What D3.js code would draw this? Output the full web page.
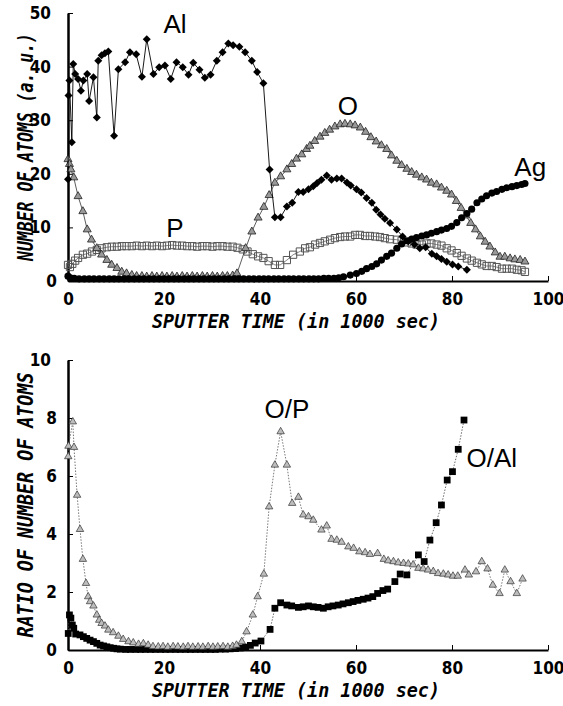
<!DOCTYPE html>
<html>
<head>
<meta charset="utf-8">
<script src="https://cdn.jsdelivr.net/npm/d3@7"></script>
<style>
body{margin:0;background:#fff;}
.tick text{font-family:'Liberation Sans Narrow','DejaVu Sans Condensed',sans-serif;font-weight:bold;font-size:17px;fill:#000;}
.ttl{font-family:'DejaVu Sans Mono',monospace;font-style:italic;font-weight:bold;fill:#000;}
.lbl{font-family:'Liberation Sans',Arial,sans-serif;font-size:26px;fill:#000;}
</style>
</head>
<body>
<svg id="svg" width="563" height="706"></svg>
<script>
// sputter time (1000 s) vs. number of atoms
const al = [[0,19.0],[0.1,34.6],[0.3,37.4],[0.8,25.9],[1.1,40.5],[1.5,38.6],[2.1,37.7],[2.7,35.5],[3.2,37.4],[4.0,38.6],[4.4,33.6],[5.3,38.0],[6.0,30.5],[6.3,41.1],[7.0,42.1],[7.7,42.5],[8.4,42.8],[9.6,27.1],[10.5,39.5],[11.9,40.8],[12.9,42.7],[14.2,42.3],[15.4,38.1],[16.4,45.1],[17.8,38.6],[19.0,39.9],[20.2,40.2],[21.4,37.7],[22.6,40.8],[23.9,39.9],[25.1,38.5],[26.1,40.7],[27.4,39.4],[28.5,37.9],[29.7,38.5],[31.0,41.1],[32.2,42.7],[33.4,44.3],[34.4,44.0],[35.7,43.7],[36.9,42.7],[38.3,41.1],[39.4,39.0],[40.7,36.9],[42.0,20.8],[43.1,11.9],[44.3,11.9],[45.6,13.9],[46.7,14.6],[48.0,16.6],[49.0,16.6],[50.1,17.1],[51.1,17.7],[51.9,18.3],[52.8,18.9],[53.9,19.7],[54.9,18.9],[56.0,19.1],[57.0,19.1],[58.1,18.4],[58.9,17.8],[60.1,17.1],[61.1,16.5],[62.2,15.5],[63.3,14.6],[64.2,13.3],[65.1,12.4],[66.0,11.6],[67.1,10.8],[68.5,9.6],[69.7,8.3],[70.9,7.4],[72.2,6.8],[73.3,6.1],[74.5,6.3],[75.8,5.1],[76.8,4.6],[77.8,4.1],[78.9,3.6],[80.1,3.1],[81.3,2.7],[83.1,2.1]];

const oxy = [[0,22.7],[0.3,21.8],[0.6,20.8],[1.2,19.3],[2.1,15.8],[3.1,13.0],[4.0,9.6],[4.9,7.7],[6.0,6.1],[7.0,4.9],[8.1,3.9],[9.1,3.0],[10.2,2.4],[11.2,1.7],[12.2,1.4],[13.3,1.1],[14.3,0.9],[15.4,0.9],[16.4,0.8],[17.5,0.9],[18.5,0.8],[19.6,0.9],[20.6,0.8],[21.7,0.9],[22.7,0.8],[23.8,0.9],[24.8,0.8],[25.9,0.9],[26.9,0.8],[28.0,0.9],[29.0,0.8],[30.1,0.9],[31.1,0.8],[32.2,0.9],[33.2,0.9],[34.3,1.0],[35.2,1.4],[37.0,6.1],[38.3,9.2],[39.6,11.8],[40.8,13.8],[41.9,16.0],[43.1,18.3],[44.3,19.5],[45.6,20.8],[46.6,21.8],[47.6,22.8],[48.7,23.6],[49.7,24.6],[50.4,25.2],[51.4,26.1],[52.5,26.9],[53.5,27.6],[54.5,28.2],[55.6,28.8],[56.7,29.2],[57.7,29.3],[58.8,29.2],[59.8,29.0],[60.9,28.6],[62.0,27.8],[63.1,26.8],[64.2,26.0],[65.3,25.3],[66.4,24.6],[67.4,23.4],[68.5,22.4],[69.5,21.6],[70.6,20.9],[71.6,20.3],[72.6,19.8],[73.7,19.3],[74.7,18.9],[75.7,18.3],[76.8,18.0],[77.8,17.4],[78.9,16.8],[79.9,16.1],[80.9,14.9],[81.9,13.6],[82.9,12.2],[83.9,10.8],[84.9,9.6],[85.9,8.3],[86.9,7.3],[87.9,6.4],[89.0,5.3],[90.0,4.5],[91.0,4.5],[92.1,4.2],[93.1,4.0],[94.2,3.9],[95.2,3.6]];

const phos = [[0,3.0],[0.4,2.6],[0.9,3.2],[1.5,3.8],[2.1,4.3],[3.1,4.9],[4.0,5.1],[5.0,5.5],[6.0,5.8],[7.0,6.1],[8.1,6.3],[9.1,6.4],[10.2,6.4],[11.2,6.5],[12.2,6.5],[13.3,6.5],[14.3,6.6],[15.4,6.5],[16.4,6.6],[17.5,6.5],[18.5,6.6],[19.6,6.5],[20.6,6.6],[21.7,6.7],[22.7,6.6],[23.8,6.6],[24.8,6.5],[25.9,6.5],[26.9,6.4],[28.0,6.5],[29.0,6.5],[30.1,6.4],[31.1,6.5],[32.2,6.5],[33.2,6.4],[34.3,6.4],[35.3,6.2],[36.4,5.9],[37.4,5.5],[38.5,5.0],[39.6,4.6],[40.7,4.3],[41.8,3.7],[43.1,3.0],[44.2,3.0],[45.6,3.9],[46.9,4.9],[48.3,5.5],[49.4,6.1],[50.4,6.3],[51.5,6.8],[52.5,7.1],[53.5,7.4],[54.6,7.7],[55.6,8.0],[56.7,8.2],[57.7,8.3],[58.8,8.3],[59.8,8.6],[60.8,8.6],[61.9,8.4],[62.9,8.4],[64.0,8.3],[65.0,8.2],[66.0,8.0],[67.1,7.8],[68.5,7.7],[69.5,7.5],[70.6,7.2],[71.6,7.0],[72.6,6.8],[73.7,6.8],[74.7,7.0],[75.7,7.0],[76.8,6.8],[77.8,6.6],[78.9,6.1],[79.9,5.7],[81.0,5.2],[82.0,4.7],[83.1,4.2],[84.1,3.8],[85.2,3.4],[86.2,3.1],[87.2,2.8],[88.3,2.8],[89.3,2.6],[90.4,2.3],[91.4,2.3],[92.5,2.3],[93.5,2.1],[94.5,2.0],[95.2,1.7]];

const ag = [[0,0.9],[0.5,0.6],[1.3,0.5],[2.3,0.4],[3.4,0.4],[4.4,0.4],[5.4,0.4],[6.5,0.4],[7.5,0.4],[8.6,0.4],[9.6,0.4],[10.6,0.4],[11.7,0.4],[12.7,0.4],[13.8,0.4],[14.8,0.4],[15.8,0.4],[16.9,0.4],[17.9,0.4],[19.0,0.4],[20.0,0.4],[21.0,0.4],[22.1,0.4],[23.1,0.4],[24.2,0.4],[25.2,0.4],[26.2,0.4],[27.3,0.4],[28.3,0.4],[29.4,0.4],[30.4,0.4],[31.4,0.4],[32.5,0.4],[33.5,0.4],[34.6,0.4],[35.6,0.4],[36.6,0.4],[37.7,0.4],[38.7,0.4],[39.8,0.4],[40.8,0.4],[41.8,0.4],[42.9,0.4],[43.9,0.4],[45.0,0.4],[46.0,0.4],[47.0,0.4],[48.1,0.4],[49.1,0.4],[50.2,0.4],[51.2,0.4],[52.2,0.4],[53.3,0.5],[54.3,0.5],[55.4,0.5],[56.4,0.6],[57.4,0.8],[58.8,1.1],[60.1,1.4],[61.2,1.8],[62.2,2.3],[63.3,2.7],[64.3,3.2],[65.3,3.9],[66.4,4.6],[67.4,5.2],[68.5,6.1],[69.5,6.9],[70.6,7.5],[71.6,7.8],[72.6,8.1],[73.7,8.4],[74.7,8.6],[75.7,8.9],[76.8,9.2],[77.8,9.5],[78.9,9.8],[79.9,10.2],[81.0,10.9],[82.0,11.8],[83.1,12.6],[84.1,13.4],[85.2,14.6],[86.2,15.3],[87.2,15.9],[88.3,16.4],[89.3,16.7],[90.4,17.1],[91.4,17.4],[92.5,17.6],[93.5,17.8],[94.5,18.0],[95.2,18.2]];

// ratios
const oToP = [[0.05,6.67],[0.1,7.03],[1.0,7.87],[1.25,6.99],[1.9,5.34],[2.5,4.16],[3.1,3.13],[3.75,2.3],[4.2,1.84],[4.6,1.67],[5.3,1.52],[6.0,1.21],[6.5,1.03],[7.0,0.92],[7.7,0.83],[8.4,0.69],[9.4,0.60],[10.5,0.48],[11.5,0.37],[12.6,0.29],[13.6,0.25],[14.7,0.20],[15.7,0.22],[16.7,0.17],[17.7,0.12],[18.8,0.11],[19.8,0.12],[20.8,0.10],[21.9,0.12],[22.9,0.11],[24.0,0.10],[25.0,0.12],[26.0,0.10],[27.1,0.11],[28.1,0.10],[29.2,0.12],[30.2,0.10],[31.2,0.11],[32.3,0.12],[33.3,0.10],[34.3,0.13],[35.1,0.17],[36.2,0.29],[37.2,0.63],[38.5,1.21],[39.5,1.84],[40.8,2.62],[41.9,4.94],[43.1,6.38],[44.3,7.53],[45.6,6.38],[46.7,5.06],[48.0,5.27],[49.0,4.66],[50.1,4.60],[51.1,4.48],[52.8,4.14],[53.9,4.28],[54.9,3.82],[56.0,3.79],[57.0,3.72],[58.4,3.56],[59.5,3.51],[60.7,3.39],[61.9,3.36],[62.9,3.30],[64.5,3.33],[65.8,3.13],[66.7,3.08],[67.8,3.05],[68.8,3.01],[69.9,2.99],[70.9,2.97],[71.9,2.94],[73.0,2.82],[74.0,2.80],[75.0,2.76],[76.1,2.71],[77.1,2.64],[78.2,2.62],[79.2,2.59],[80.2,2.55],[81.2,2.55],[82.7,2.76],[83.5,2.59],[85.0,2.70],[86.2,3.05],[87.4,2.80],[88.5,2.24],[89.9,1.95],[91.0,2.76],[92.2,2.36],[93.5,1.95],[94.7,2.45]];

const oToAl = [[0.05,0.57],[0.3,1.21],[0.6,1.1],[0.9,0.86],[1.2,0.75],[1.6,0.55],[2.5,0.52],[3.2,0.46],[3.9,0.40],[4.6,0.34],[5.3,0.29],[6.0,0.23],[6.7,0.17],[7.4,0.14],[8.1,0.11],[8.8,0.08],[9.5,0.06],[10.2,0.04],[10.9,0.03],[12.0,0.02],[13.0,0.02],[14.1,0.02],[15.1,0.02],[16.1,0.02],[17.2,0.02],[18.2,0.02],[19.3,0.02],[20.3,0.02],[21.3,0.02],[22.4,0.02],[23.4,0.02],[24.5,0.02],[25.5,0.02],[26.5,0.02],[27.6,0.02],[28.6,0.02],[29.7,0.02],[30.7,0.02],[31.7,0.03],[32.8,0.03],[33.8,0.04],[34.9,0.05],[35.9,0.07],[37.0,0.10],[38.0,0.16],[39.0,0.24],[40.2,0.31],[42.1,0.71],[43.1,1.44],[44.3,1.63],[45.6,1.55],[46.6,1.52],[48.0,1.47],[49.0,1.49],[50.1,1.52],[51.1,1.49],[52.1,1.47],[53.2,1.44],[54.2,1.49],[55.2,1.52],[56.3,1.55],[57.3,1.59],[58.4,1.63],[59.4,1.67],[60.4,1.71],[61.5,1.75],[62.5,1.79],[63.5,1.84],[64.5,1.95],[65.6,2.05],[66.6,2.10],[68.1,2.36],[69.2,2.62],[70.6,2.59],[73.0,3.28],[74.2,3.05],[75.4,3.79],[76.7,4.39],[77.8,5.00],[79.0,5.86],[80.1,6.15],[81.3,6.92],[82.5,7.93]];

const xTicks = [0, 20, 40, 60, 80, 100];
const topTicks = [0, 10, 20, 30, 40, 50];
const botTicks = [0, 2, 4, 6, 8, 10];
const xTitle = "SPUTTER TIME (in 1000 sec)";

const svg = d3.select("#svg");
svg.append("rect").attr("width", 563).attr("height", 706).attr("fill", "#fff");

const xScale = d3.scaleLinear().domain([0, 100]).range([68, 548]);
const yTop = d3.scaleLinear().domain([0, 50]).range([281, 13]);
const yBot = d3.scaleLinear().domain([0, 10]).range([650, 360]);

function axes(y, ticks, yTitle, yLen){
    const y0 = y(0);
    const gx = svg.append("g").attr("transform", "translate(0," + y0 + ")")
        .call(d3.axisBottom(xScale).tickValues(xTicks).tickSize(-5).tickSizeOuter(0).tickPadding(12));
    gx.select(".domain").attr("stroke", "#000").attr("stroke-width", 2);
    gx.selectAll(".tick line").attr("stroke", "#000").attr("stroke-width", 1);

    const gy = svg.append("g").attr("transform", "translate(68,0)")
        .call(d3.axisLeft(y).tickValues(ticks).tickSize(-5).tickSizeOuter(0).tickPadding(11));
    gy.select(".domain").attr("stroke", "#000").attr("stroke-width", 2.5);
    gy.selectAll(".tick line").attr("stroke", "#000").attr("stroke-width", 1);
    gy.selectAll(".tick text").attr("dx", d => String(d).length > 1 ? -6 : 0);

    svg.append("text").attr("class", "ttl")
        .attr("x", 296).attr("y", y0 + 47)
        .attr("text-anchor", "middle").attr("font-size", 20)
        .attr("textLength", 288).attr("lengthAdjust", "spacingAndGlyphs")
        .text(xTitle);

    const cy = (y.range()[0] + y.range()[1]) / 2;
    svg.append("text").attr("class", "ttl")
        .attr("transform", "translate(33," + cy + ") rotate(-90)")
        .attr("text-anchor", "middle").attr("font-size", 22)
        .attr("textLength", yLen).attr("lengthAdjust", "spacingAndGlyphs")
        .text(yTitle);
}

function series(data, y, opts){
    const line = d3.line().x(d => xScale(d[0])).y(d => y(d[1]));
    if (opts.line) {
        svg.append("path").datum(data).attr("d", line)
            .attr("fill", "none").attr("stroke", opts.line)
            .attr("stroke-width", opts.lw || 0.8)
            .attr("stroke-dasharray", opts.dash || null);
    }
    svg.append("g").selectAll("path").data(data).enter().append("path")
        .attr("d", d3.symbol().type(opts.sym).size(opts.size))
        .attr("transform", d => "translate(" + xScale(d[0]) + "," + y(d[1]) + ")" + (opts.rot ? " rotate(45)" : ""))
        .attr("fill", opts.fill).attr("stroke", opts.stroke || "none")
        .attr("stroke-width", opts.sw || 0.8);
}

axes(yTop, topTicks, "NUMBER OF ATOMS (a. u.)", 228);
axes(yBot, botTicks, "RATIO OF NUMBER OF ATOMS", 265);

// top panel
series(phos, yTop, {sym: d3.symbolSquare, size: 52, fill: "none", stroke: "#555", sw: 1, line: "#666"});
series(oxy, yTop, {sym: d3.symbolTriangle, size: 28, fill: "#999", stroke: "#222", line: "#333"});
series(al, yTop, {sym: d3.symbolSquare, size: 32, rot: true, fill: "#000", line: "#000", lw: 0.9});
series(ag, yTop, {sym: d3.symbolCircle, size: 40, fill: "#000", line: "#000"});

// bottom panel
series(oToAl, yBot, {sym: d3.symbolSquare, size: 46, fill: "#000", line: "#444", dash: "1.5,1.5"});
series(oToP, yBot, {sym: d3.symbolTriangle, size: 24, fill: "#bdbdbd", stroke: "#333", sw: 0.7, line: "#555", dash: "1.5,1.5"});

const topLabels = [["Al", 22.3, 48], ["O", 58.3, 32.8], ["Ag", 96.3, 21.4], ["P", 22.3, 9.9]];
const botLabels = [["O/P", 45.6, 8.34], ["O/Al", 88.3, 6.62]];
topLabels.forEach(l => svg.append("text").attr("class", "lbl")
    .attr("x", xScale(l[1])).attr("y", yTop(l[2])).attr("dy", "0.36em")
    .attr("text-anchor", "middle").text(l[0]));
botLabels.forEach(l => svg.append("text").attr("class", "lbl")
    .attr("x", xScale(l[1])).attr("y", yBot(l[2])).attr("dy", "0.36em")
    .attr("text-anchor", "middle").text(l[0]));
</script>
</body>
</html>
